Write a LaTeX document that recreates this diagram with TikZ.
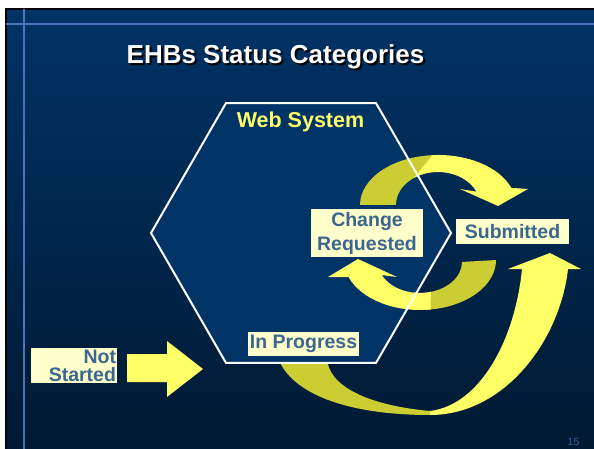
\documentclass[tikz,border=0pt]{standalone}
\usepackage{fontspec}
\setmainfont{Liberation Sans}
\usepackage{xcolor}
\usetikzlibrary{shapes.geometric}
\definecolor{slidetop}{RGB}{0,51,102}
\definecolor{slidemid}{RGB}{0,38,78}
\definecolor{slidebot}{RGB}{0,24,48}
\definecolor{guide}{RGB}{78,115,184}
\definecolor{hexfill}{RGB}{0,51,102}
\definecolor{arrowlit}{RGB}{255,255,102}
\definecolor{arrowdim}{RGB}{204,204,51}
\definecolor{labelbg}{RGB}{255,255,204}
\definecolor{labeltxt}{RGB}{58,102,144}
\definecolor{pagenum}{RGB}{56,96,158}
\newcommand{\shadowtext}[1]{\rlap{\raisebox{-2pt}{\hspace{2pt}\color{black}#1}}#1}

\begin{document}
\begin{tikzpicture}[x=1pt,y=1pt,yscale=-1,
  status/.style={fill=labelbg,text=labeltxt,inner sep=0pt,align=center,
    font=\fontsize{19.5}{24}\selectfont\bfseries},
  websys/.style={regular polygon,regular polygon sides=6,minimum size=300pt,inner sep=0pt,outer sep=0pt},
  lit/.style={fill=arrowlit},
  dim/.style={fill=arrowdim}]
\useasboundingbox (0,0) rectangle (594,449);
\fill[white] (0,0) rectangle (594,449);
\shade[top color=slidetop,middle color=slidemid,bottom color=slidebot,draw=black,line width=2pt] (6,9) rectangle (610,470);
\draw[guide,line width=1.6pt] (6,24) -- (594,24);
\draw[guide,line width=1.6pt] (24,9) -- (24,449);
\node[font=\fontsize{26}{30}\selectfont\bfseries,text=white,anchor=base] (title) at (275.5,64) {\shadowtext{EHBs Status Categories}};
\fill[dim] (278,358) .. controls (292,395) and (350,415) .. (430,415) -- (430,411) .. controls (365,405) and (328,385) .. (327,358) -- cycle;
\fill[lit] (430,415) .. controls (505,415) and (560,340) .. (568,269) -- (581,269) -- (550,253) -- (508,269) -- (522,269) .. controls (515,340) and (480,405) .. (430,411) -- cycle;
\node[websys,fill=hexfill] (web) at (301,233) {};
\fill[dim] (360,205) arc[start angle=180,end angle=268,x radius=78,y radius=50] -- (415.1,177.3) arc[start angle=237,end angle=180,x radius=42,y radius=33] -- cycle;
\fill[lit] (432.6,155.1) arc[start angle=266,end angle=340,x radius=78,y radius=50] -- (528,189) -- (498,206) -- (460,189) -- (476.4,191.6) arc[start angle=336,end angle=235,x radius=42,y radius=33] -- cycle;
\fill[dim] (496,260) arc[start angle=0,end angle=95,x radius=76,y radius=50] -- (412.7,292.5) arc[start angle=100,end angle=0,x radius=42,y radius=31] -- cycle;
\fill[lit] (430.6,309.5) arc[start angle=82,end angle=160,x radius=76,y radius=50] -- (328,277) -- (358,259) -- (397,277) -- (381.9,275.1) arc[start angle=155,end angle=75,x radius=42,y radius=31] -- cycle;
\node[websys,draw=white,line width=2pt] (webline) at (web.center) {};
\node[font=\fontsize{21.5}{26}\selectfont\bfseries,text=arrowlit,anchor=base] (webname) at (300.5,128) {Web System};
\fill[lit] (127,354) -- (167,354) -- (167,341) -- (203,369) -- (167,397) -- (167,382) -- (127,382) -- cycle;
\node[status,minimum width=112pt,minimum height=48pt] (chg) at (367,233) {Change\\Requested};
\node[status,minimum width=113pt,minimum height=25pt] (sub) at (512.5,231.5) {Submitted};
\node[status,minimum width=111pt,minimum height=24pt] (prog) at (303.5,344) {In Progress};
\node[status,text width=84pt,align=right,inner xsep=1pt,minimum height=35pt,
  font=\fontsize{19.5}{18}\selectfont\bfseries] (start) at (74,365.5) {Not\\Started};
\node[font=\fontsize{10.5}{12}\selectfont,text=pagenum,anchor=base] (page) at (573.5,445) {15};
\end{tikzpicture}
\end{document}
